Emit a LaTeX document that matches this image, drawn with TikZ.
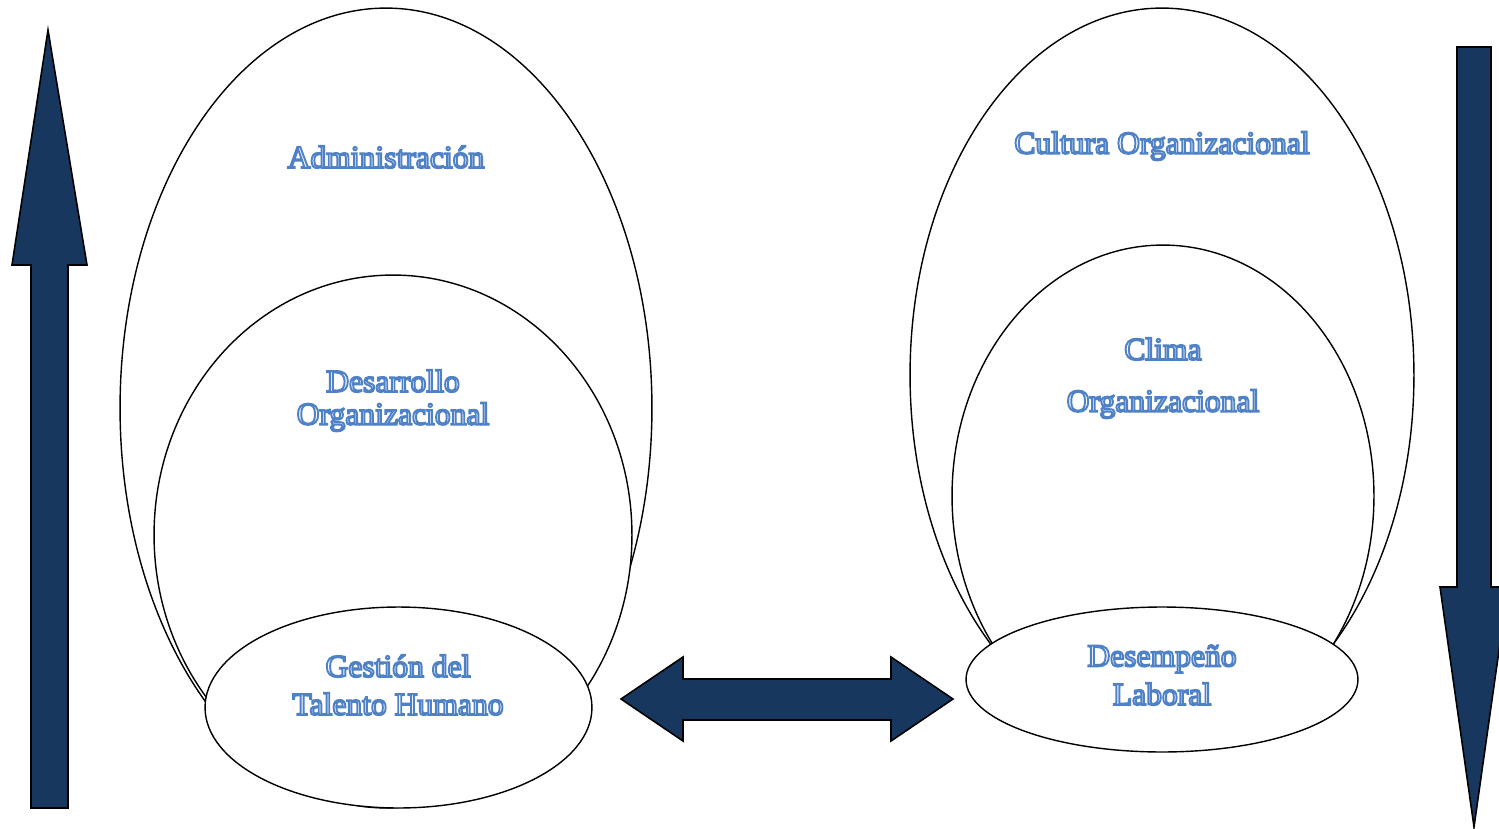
\documentclass[tikz,border=0pt]{standalone}
\usepackage{fontspec}
\setmainfont{Liberation Serif}
\usetikzlibrary{shapes.geometric}
\definecolor{navy}{HTML}{17375E}
\definecolor{wordblue}{HTML}{4F81C6}
% hollow (outlined) lettering
\newcommand\hollow[1]{\special{pdf:literal direct 1 Tr 1.1 w}#1\special{pdf:literal direct 0 Tr}}
\tikzset{
  ring/.style={ellipse, draw=black, line width=0.8pt, inner sep=0pt, outer sep=0pt, fill=white},
  word/.style={text=wordblue, font=\fontsize{18}{20}\selectfont, inner sep=0pt, anchor=center},
  bigarrow/.style={fill=navy, draw=black, line width=0.9pt, line join=miter}
}
\begin{document}
\begin{tikzpicture}[x=0.02cm, y=-0.02cm]
\useasboundingbox (0,0) rectangle (1499,829);

% left group, outer to inner, each one covering the one behind
\node[ring, minimum width=10.64cm, minimum height=16.0cm] (admin) at (386,408) {};
\node[ring, minimum width=9.56cm, minimum height=10.4cm] (desarrollo) at (393,535) {};
\node[ring, minimum width=7.74cm, minimum height=4.02cm] (gestion) at (398.5,707.5) {};

% right group
\node[ring, minimum width=10.08cm, minimum height=14.68cm] (cultura) at (1162,375) {};
\node[ring, minimum width=8.44cm, minimum height=10.04cm] (clima) at (1163,496) {};
\node[ring, minimum width=7.84cm, minimum height=2.9cm] (desempeno) at (1162,679.5) {};

% labels
\node[word] (tadmin) at (386,157) {\hollow{Administración}};
\node[word] (tdes1) at (393,381) {\hollow{Desarrollo}};
\node[word] (tdes2) at (393,417) {\hollow{Organizacional}};
\node[word] (tges1) at (398,666) {\hollow{Gestión del}};
\node[word] (tges2) at (398,704) {\hollow{Talento Humano}};
\node[word] (tcul) at (1162,146) {\hollow{Cultura Organizacional}};
\node[word] (tcli1) at (1163,349) {\hollow{Clima}};
\node[word] (tcli2) at (1163,404) {\hollow{Organizacional}};
\node[word] (tdem1) at (1162,659) {\hollow{Desempeño}};
\node[word] (tdem2) at (1162,694) {\hollow{Laboral}};

% upward arrow
\draw[bigarrow] (48,30) -- (87,265) -- (68,265) -- (68,808) -- (31,808)
  -- (31,265) -- (12,265) -- cycle;
% downward arrow
\draw[bigarrow] (1457,47) -- (1491,47) -- (1491,587) -- (1508,587)
  -- (1474,827) -- (1440,587) -- (1457,587) -- cycle;
% two-headed arrow
\draw[bigarrow] (621,699) -- (683,657) -- (683,679) -- (891,679) -- (891,657)
  -- (953,699) -- (891,741) -- (891,720) -- (683,720) -- (683,741) -- cycle;
\end{tikzpicture}
\end{document}
